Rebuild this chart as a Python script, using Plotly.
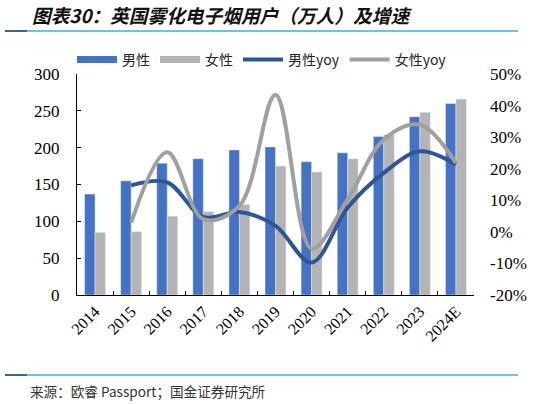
import plotly.graph_objects as go

years = ["2014", "2015", "2016", "2017", "2018", "2019", "2020", "2021", "2022", "2023", "2024E"]
male = [137, 155, 179, 185, 197, 201, 181, 193, 215, 242, 260]
female = [85, 86, 107, 113, 123, 175, 167, 185, 218, 248, 266]
male_yoy = [None, 0.147, 0.157, 0.047, 0.063, 0.019, -0.097, 0.077, 0.187, 0.255, 0.213]
female_yoy = [None, 0.029, 0.252, 0.040, 0.082, 0.434, -0.053, 0.103, 0.292, 0.339, 0.218]
y2_ticks = [-0.2, -0.1, 0, 0.1, 0.2, 0.3, 0.4, 0.5]
y2_labels = ["-20%", "-10%", "0%", "10%", "20%", "30%", "40%", "50%"]

W, H = 560, 404
L, R, T, B = 77, 86, 74, 109
pw, ph = W - L - R, H - T - B


def px(x):
    return (x - L) / pw


def py(y):
    return (H - B - y) / ph


BLUE = "#4472C4"
GRAY = "#B4B4B4"
DBLUE = "#2F5597"
LGRAY = "#A0A0A0"
CJK = "Noto Sans CJK SC"
SERIF = "Liberation Serif"

fig = go.Figure()
fig.add_trace(go.Bar(x=years, y=male, name="男性", marker_color=BLUE, showlegend=False))
fig.add_trace(go.Bar(x=years, y=female, name="女性", marker_color=GRAY, showlegend=False))
# legend stand-ins so the bar swatches are wide like the original
fig.add_trace(go.Scatter(x=[None], y=[None], mode="lines", name="男性", line=dict(color=BLUE, width=7)))
fig.add_trace(go.Scatter(x=[None], y=[None], mode="lines", name="女性", line=dict(color=GRAY, width=7)))
fig.add_trace(go.Scatter(x=years, y=male_yoy, name="男性yoy", yaxis="y2", mode="lines",
                         line=dict(color=DBLUE, width=4, shape="spline", smoothing=1.0)))
fig.add_trace(go.Scatter(x=years, y=female_yoy, name="女性yoy", yaxis="y2", mode="lines",
                         line=dict(color=LGRAY, width=4, shape="spline", smoothing=1.0)))

fig.update_layout(
    width=W, height=H,
    margin=dict(l=L, r=R, t=T, b=B, autoexpand=False),
    paper_bgcolor="white", plot_bgcolor="white",
    barmode="group", bargap=0.42, bargroupgap=0,
    legend=dict(orientation="h", x=px(72), y=py(60), xanchor="left", yanchor="middle",
                font=dict(family=CJK, size=14, color="#222"), itemwidth=40,
                traceorder="normal", bgcolor="rgba(0,0,0,0)"),
    xaxis=dict(type="category", showline=True, linecolor="black", linewidth=1.2,
               ticks="inside", ticklen=4, tickcolor="black", tickson="boundaries",
               tickangle=-45, tickfont=dict(family=SERIF, size=16, color="black"),
               showgrid=False, zeroline=False, automargin=False),
    yaxis=dict(range=[0, 300], dtick=50, showline=True, linecolor="black", linewidth=1.2,
               ticks="inside", ticklen=4, tickcolor="black", showgrid=False, zeroline=False,
               tickfont=dict(family=SERIF, size=17, color="black"), automargin=False,
               ticklabelstandoff=13),
    yaxis2=dict(overlaying="y", side="right", range=[-0.2, 0.5], tickvals=y2_ticks,
                ticktext=y2_labels, showline=False, showgrid=False, zeroline=False,
                ticks="", tickfont=dict(family=SERIF, size=17, color="black"), automargin=False,
                ticklabelstandoff=15),
)

fig.add_annotation(text="图表30：英国雾化电子烟用户（万人）及增速", xref="paper", yref="paper",
                   x=px(30), y=py(14), xanchor="left", yanchor="middle", showarrow=False,
                   font=dict(family=CJK, size=18.7, color="#111", weight="bold", style="italic"))
fig.add_annotation(text="来源：欧睿 Passport；国金证券研究所", xref="paper", yref="paper",
                   x=px(28), y=py(391), xanchor="left", yanchor="middle", showarrow=False,
                   font=dict(family=CJK, size=13.6, color="#333"))

for yy in (31, 375):
    fig.add_shape(type="line", xref="paper", yref="paper", x0=px(5), x1=px(518),
                  y0=py(yy), y1=py(yy), line=dict(color="#3AACE0", width=1.5))
    fig.add_shape(type="line", xref="paper", yref="paper", x0=px(5), x1=px(27),
                  y0=py(yy), y1=py(yy), line=dict(color="#1F4E6B", width=1.5))

fig.write_html("out.html", config={"displayModeBar": False},
               post_script="document.body.style.margin='0';")
